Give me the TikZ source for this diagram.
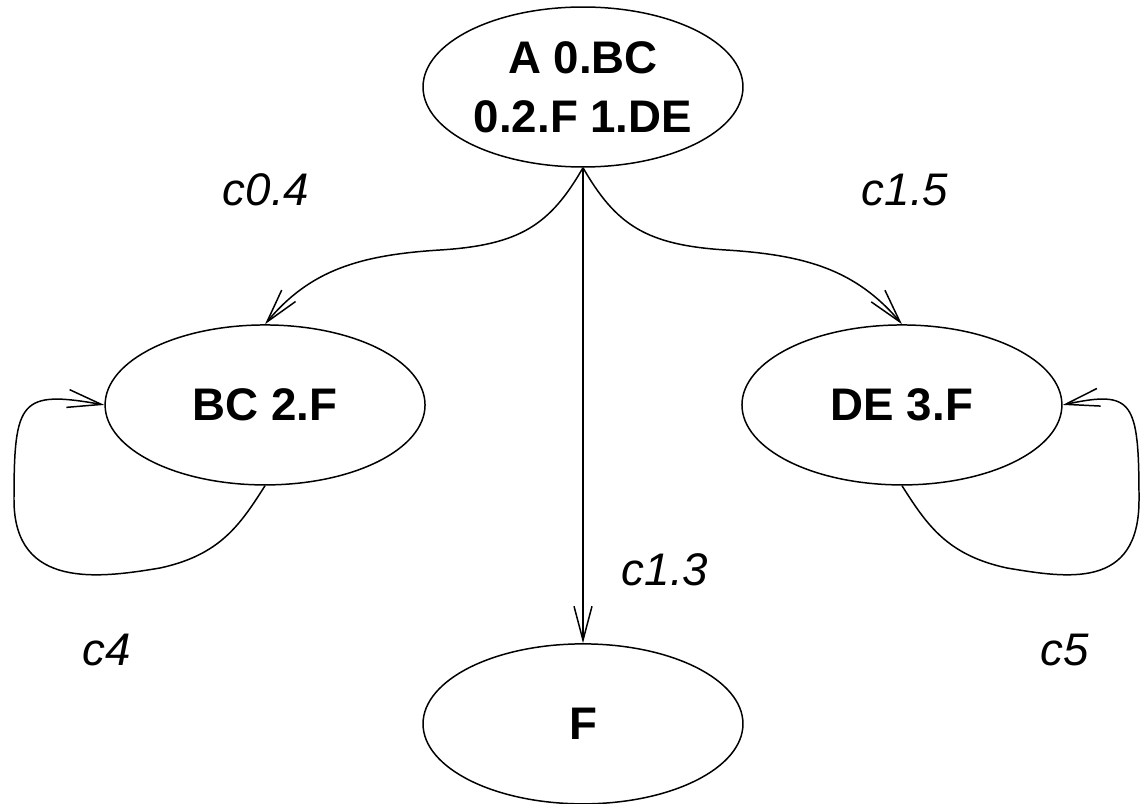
\documentclass[tikz,border=0pt]{standalone}
\usepackage{fontspec}
\setmainfont{Liberation Sans}
\usetikzlibrary{shapes.geometric,arrows.meta}

\begin{document}
\begin{tikzpicture}[x=0.02cm,y=-0.02cm,node distance=6.36cm]
                \tikzstyle{state} = [ellipse, draw, line width=0.85pt, minimum width=6.4cm, minimum height=3.2cm, inner sep=0pt, align=center, font=\bfseries\fontsize{26}{33.6}\selectfont]
                \tikzstyle{cost} = [font=\itshape\fontsize{26}{31}\selectfont]
                \tikzstyle{arrow} = [line width=0.85pt,->,>={Straight Barb[length=0.68cm,width=0.36cm]}]
                \useasboundingbox (0,0) rectangle (1142,804);

                \node (A) [state] at (583,87) {A 0.BC\\0.2.F 1.DE};
                \node (BC) [state, below of=A, xshift=-6.36cm] {BC 2.F};
                \node (DE) [state, below of=A, xshift=6.38cm] {DE 3.F};
                \node (F) [state, below of=A, node distance=12.74cm] {F};

                \node (c04) [cost] at (266,190) {c0.4};
                \node (c15) [cost] at (905,190) {c1.5};
                \node (c13) [cost] at (665,570) {c1.3};
                \node (c4) [cost] at (107,650) {c4};
                \node (c5) [cost] at (1065,650) {c5};

                \draw [arrow] (A.south) .. controls (550,225) and (520,245) .. (440,250)
                              .. controls (360,255) and (310,270) .. (BC.north);
                \draw [arrow] (A.south) -- (F.north);
                \draw [arrow] (A.south) .. controls (616,225) and (646,245) .. (726,250)
                              .. controls (806,255) and (856,270) .. (DE.north);
                % self loops
                \draw [arrow] (BC.south) .. controls (240,525) and (220,555) .. (160,568)
                              .. controls (100,578) and (14,590) .. (14,500)
                              .. controls (14,400) and (20,390) .. (BC.west);
                \draw [arrow] (DE.south) .. controls (927,525) and (947,555) .. (1007,568)
                              .. controls (1067,578) and (1139,590) .. (1139,500)
                              .. controls (1139,400) and (1133,390) .. (DE.east);
            \end{tikzpicture}
\end{document}
